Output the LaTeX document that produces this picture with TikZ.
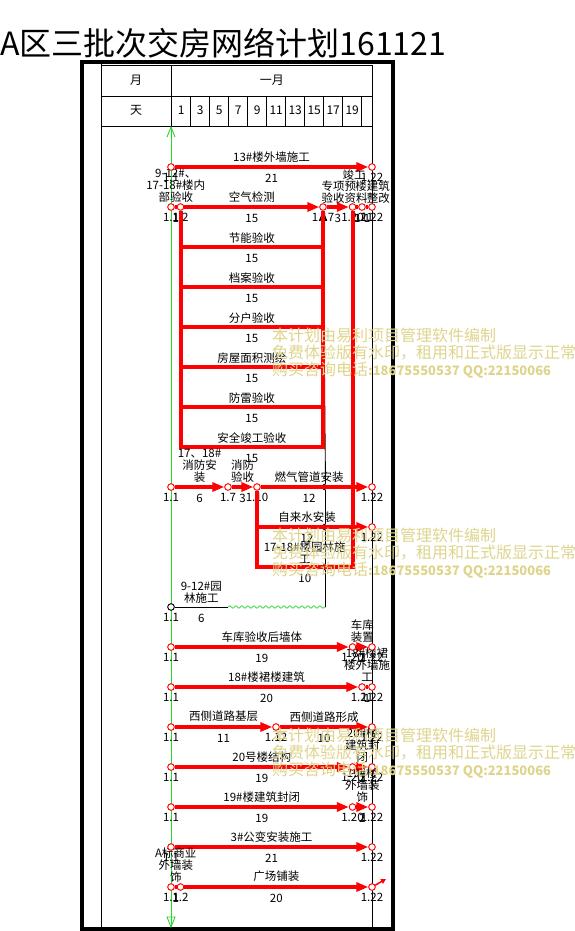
\documentclass[tikz,border=0pt]{standalone}
\usepackage{fontspec}
\setmainfont{Noto Sans CJK SC}
\usetikzlibrary{arrows.meta,decorations.pathmorphing}
\definecolor{wmc}{RGB}{222,212,140}
\definecolor{tgreen}{RGB}{40,215,40}
\newcommand\lblfont{\fontsize{11.5}{12}\selectfont}
\newcommand\wmfont{\fontsize{16}{17.5}\selectfont}
\begin{document}
\begin{tikzpicture}[x=1pt,y=-1pt,
 label distance=2.5pt,
 nd/.style={circle,draw=red,fill=white,inner sep=0pt,minimum size=6.5pt,line width=0.8pt},
 ndk/.style={nd,draw=black},
 work/.style={red,line width=4pt,-{Triangle[length=12pt,width=9pt]}},
 link/.style={red,line width=4pt},
 lab/.style={font=\lblfont,text=black,align=center,inner sep=0pt,above=3pt},
 dur/.style={font=\lblfont,text=black,inner sep=0pt,yshift=-11pt},
 dt/.style={font=\lblfont,text=black,inner sep=0pt},
 txt/.style={font=\lblfont,text=black,inner sep=0pt},
 grid/.style={black,line width=0.8pt},
 hdr/.style={font=\fontsize{12}{12}\selectfont,inner sep=0pt},
 wm/.style={font=\wmfont,text=wmc,inner sep=0pt,anchor=west,align=left},
]
\useasboundingbox (0,0) rectangle (574,931);
% title
\node[anchor=west,inner sep=0pt,font=\fontsize{32}{34}\selectfont] (title) at (0,43) {A区三批次交房网络计划161121};
% frame and table
\draw[line width=4pt] (82,62.5) rectangle (392.5,928.5);
\draw[grid] (101,62.5) -- (101,928.5);
\draw[grid] (101,65.5) -- (372,65.5);
\draw[grid] (101,96) -- (372,96);
\draw[grid] (101,126) -- (372,126);
\draw[grid] (171.5,65.5) -- (171.5,126);
\draw[grid] (372,65.5) -- (372,928.5);
\foreach \i in {0,...,9} \draw[grid] (190.7+19*\i,96) -- (190.7+19*\i,126);
\node[hdr] (hm) at (136,80) {月};
\node[hdr] (hd) at (136,110) {天};
\node[hdr] (hy) at (271.8,80) {一月};
\foreach \d [count=\i from 0] in {1,3,...,19} \node[hdr] (day\d) at (181.2+19*\i,110) {\d};
% today line
\coordinate (gtop) at (171,127);
\coordinate (gbot) at (171,927);
\draw[tgreen,line width=0.9pt] (gtop) -- (gbot);
\draw[tgreen,line width=0.9pt] (167,137) -- (gtop) -- (175,137);
\draw[tgreen,line width=0.9pt] (167,917) -- (175,917) -- (gbot) -- cycle;

% ---------- nodes ----------
\node[nd,label={[dt]below:1.1}] (nA1) at (171,167) {};
\node[nd,label={[dt]below:1.22}] (nA22) at (372,167) {};

\node[nd,label={[dt]below:1.1}] (nB1) at (171,207) {};
\node[nd,label={[dt]below:1.2}] (nB2) at (180.5,207) {};
\node[nd,label={[dt]below:1.17}] (nB17) at (323,207) {};
\node[nd,label={[dt]below:1.20}] (nB20) at (352.5,207) {};
\node[nd,label={[dt]below:1.21}] (nB21) at (362,207) {};
\node[nd,label={[dt]below:1.22}] (nB22) at (372,207) {};

\node[nd,label={[dt]below:1.1}] (nG1) at (171,487) {};
\node[nd,label={[dt]below:1.7}] (nG7) at (228,487) {};
\node[nd,label={[dt]below:1.10}] (nG10) at (257,487) {};
\node[nd,label={[dt]below:1.22}] (nG22) at (372,487) {};
\node[nd,label={[dt]below:1.22}] (nW22) at (372,527) {};

\node[ndk,label={[dt]below:1.1}] (nL1) at (171,607) {};

\node[nd,label={[dt]below:1.1}] (nC1) at (171,647) {};
\node[nd,label={[dt]below:1.20}] (nC20) at (352.5,647) {};
\node[nd,label={[dt]below:1.22}] (nC22) at (372,647) {};

\node[nd,label={[dt]below:1.1}] (nQ1) at (171,687) {};
\node[nd,label={[dt]below:1.21}] (nQ21) at (362,687) {};
\node[nd,label={[dt]below:1.22}] (nQ22) at (372,687) {};

\node[nd,label={[dt]below:1.1}] (nX1) at (171,727) {};
\node[nd,label={[dt]below:1.12}] (nX12) at (276,727) {};
\node[nd,label={[dt]below:1.22}] (nX22) at (372,727) {};

\node[nd,label={[dt]below:1.1}] (nT1) at (171,767) {};
\node[nd,label={[dt]below:1.20}] (nT20) at (352.5,767) {};
\node[nd,label={[dt]below:1.22}] (nT22) at (372,767) {};

\node[nd,label={[dt]below:1.1}] (nN1) at (171,807) {};
\node[nd,label={[dt]below:1.20}] (nN20) at (352.5,807) {};
\node[nd,label={[dt]below:1.22}] (nN22) at (372,807) {};

\node[nd,label={[dt]below:1.1}] (nP1) at (171,847) {};
\node[nd,label={[dt]below:1.22}] (nP22) at (372,847) {};

\node[nd,label={[dt]below:1.1}] (nS1) at (171,887) {};
\node[nd,label={[dt]below:1.2}] (nS2) at (180.5,887) {};
\node[nd,label={[dt]below:1.22}] (nS22) at (372,887) {};

% ---------- coordinates ----------
\foreach \k/\yy in {1/247,2/287,3/327,4/367,5/407,6/447} {
  \coordinate (cL\k) at (180.5,\yy);
  \coordinate (cR\k) at (323,\yy);
}
\coordinate (cW) at (257,527);
\coordinate (cY1) at (257,567);
\coordinate (cY2) at (352.5,567);
\coordinate (cL7) at (228,607);
\coordinate (cL17) at (325.5,607);
\coordinate (cS) at (386,879);

% ---------- connectors ----------
% black dummy from 9-12# landscaping
\draw[black,line width=0.9pt] (nL1) -- (cL7) node[midway,lab]{9-12\#园\\林施工} node[midway,dur]{6};
\draw[tgreen,line width=0.7pt,decorate,decoration={snake,amplitude=1.3pt,segment length=6pt}] (cL7) -- (cL17);
\draw[black,line width=0.9pt,-{Triangle[length=10pt,width=8pt]}] (cL17) -- (325.5,570) .. controls (321.5,570) and (321.5,564) .. (325.5,564) -- (325.5,530) .. controls (321.5,530) and (321.5,524) .. (325.5,524) -- (325.5,490) .. controls (321.5,490) and (321.5,484) .. (325.5,484) -- (nB17);

% row A
\draw[work] (nA1) -- (nA22) node[midway,lab]{13\#楼外墙施工} node[midway,dur]{21};
% row B
\draw[link] (nB1) -- (nB2) node[midway,lab]{9-12\#、\\17-18\#楼内\\部验收} node[midway,dur]{1};
\draw[work] (nB2) -- (nB17) node[midway,lab]{空气检测} node[midway,dur]{15};
\draw[work] (nB17) -- (nB20) node[midway,dur]{3};
\draw[link] (nB20) -- (nB21) node[midway,dur]{1};
\draw[link] (nB21) -- (nB22) node[midway,dur]{1};
\node[txt,anchor=south west,align=left] (tB17) at (321.5,204) {专项预\\验收资料};
\node[txt] (tB20) at (354,175) {竣工};
\node[txt,anchor=south east,align=right] (tB21) at (390,204) {楼建筑\\整改};
% acceptance branches
\draw[link] (nB2) -- (cL6) -- (cR6) -- (nB17);
\foreach \k in {1,...,5} \draw[link] (cL\k) -- (cR\k);
\path (cL1) -- (cR1) node[midway,lab]{节能验收} node[midway,dur]{15};
\path (cL2) -- (cR2) node[midway,lab]{档案验收} node[midway,dur]{15};
\path (cL3) -- (cR3) node[midway,lab]{分户验收} node[midway,dur]{15};
\path (cL4) -- (cR4) node[midway,lab]{房屋面积测绘} node[midway,dur]{15};
\path (cL5) -- (cR5) node[midway,lab]{防雷验收} node[midway,dur]{15};
\path (cL6) -- (cR6) node[midway,lab]{安全竣工验收} node[midway,dur]{15};
% 17-18# landscaping path
\draw[link] (nG10) -- (cY1) -- (cY2) -- (nB20);
\path (cY1) -- (cY2) node[midway,lab]{17-18\#楼园林施\\工} node[midway,dur]{10};
% row G
\draw[work] (nG1) -- (nG7) node[midway,lab]{17、18\#\\消防安\\装} node[midway,dur]{6};
\draw[work] (nG7) -- (nG10) node[midway,lab]{消防\\验收} node[midway,dur]{3};
\draw[work] (nG10) -- (nG22) node[pos=0.45,lab]{燃气管道安装} node[pos=0.45,dur]{12};
% row W
\draw[work] (nG10) -- (cW) -- (nW22) node[pos=0.45,lab]{自来水安装} node[pos=0.45,dur]{12};
% row C
\draw[work] (nC1) -- (nC20) node[midway,lab]{车库验收后墙体} node[midway,dur]{19};
\draw[work] (nC20) -- (nC22) node[midway,lab]{车库\\装置} node[midway,dur]{2};
% row Q
\draw[work] (nQ1) -- (nQ21) node[midway,lab]{18\#楼裙楼建筑} node[midway,dur]{20};
\draw[link] (nQ21) -- (nQ22) node[midway,lab]{18\#楼裙\\楼外墙施\\工} node[midway,dur]{1};
% row X
\draw[work] (nX1) -- (nX12) node[midway,lab]{西侧道路基层} node[midway,dur]{11};
\draw[work] (nX12) -- (nX22) node[midway,lab]{西侧道路形成} node[midway,dur]{10};
% row 20
\draw[work] (nT1) -- (nT20) node[midway,lab]{20号楼结构} node[midway,dur]{19};
\draw[work] (nT20) -- (nT22) node[midway,lab]{20\#楼\\建筑封\\闭} node[midway,dur]{2};
% row 19
\draw[work] (nN1) -- (nN20) node[midway,lab]{19\#楼建筑封闭} node[midway,dur]{19};
\draw[work] (nN20) -- (nN22) node[midway,lab]{19\#楼\\外墙装\\饰} node[midway,dur]{2};
% row P
\draw[work] (nP1) -- (nP22) node[midway,lab]{3\#公变安装施工} node[midway,dur]{21};
% row S
\draw[link] (nS1) -- (nS2) node[midway,lab]{A标商业\\外墙装\\饰} node[midway,dur]{1};
\draw[work] (nS2) -- (nS22) node[midway,lab]{广场铺装} node[midway,dur]{20};
\draw[red,line width=1.5pt,-{Triangle[length=5pt,width=5pt]}] (nS22) -- (cS);

% redraw nodes on top of lines
\foreach \n in {nA1,nA22,nB1,nB2,nB17,nB20,nB21,nB22,nG1,nG7,nG10,nG22,nW22,nC1,nC20,nC22,nQ1,nQ21,nQ22,nX1,nX12,nX22,nT1,nT20,nT22,nN1,nN20,nN22,nP1,nP22,nS1,nS2,nS22}
  \draw[red,fill=white,line width=0.8pt] (\n) circle[radius=3.25pt];
\draw[black,fill=white,line width=0.8pt] (nL1) circle[radius=3.25pt];

% watermarks
\foreach \yy/\k in {335/a,535/b,735/c} {
  \node[wm] (wmA\k) at (272,\yy) {本计划由易利项目管理软件编制};
  \node[wm] (wmB\k) at (272,\yy+17.5) {免费体验版有水印，租用和正式版显示正常};
  \node[wm] (wmC\k) at (272,\yy+35) {购买咨询电话{\fontsize{13}{13}\selectfont\bfseries :18675550537 QQ:22150066}};
}
\end{tikzpicture}
\end{document}
